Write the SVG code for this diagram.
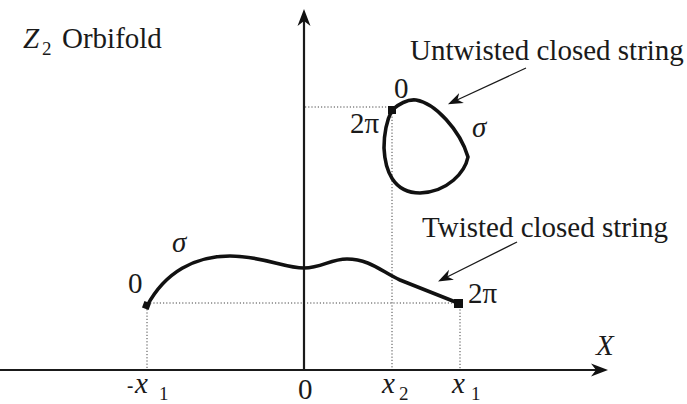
<svg xmlns="http://www.w3.org/2000/svg" width="687" height="404" viewBox="0 0 687 404">
<defs>
<style>
.txt{font-family:"Liberation Serif","Times New Roman",serif;font-size:29px;fill:#1a1a1a}
.it{font-style:italic}
.sub{font-size:19px}
.axis{stroke:#1a1a1a;stroke-width:2.2;fill:none}
.guide{stroke:#444;stroke-width:1;stroke-dasharray:1.2 2;fill:none}
.str{stroke:#111;stroke-width:3.6;fill:none;stroke-linejoin:round;stroke-linecap:round}
.ptr{stroke:#1a1a1a;stroke-width:1.3;fill:none}
.end{fill:#111}
</style>
<marker id="axhead" markerUnits="userSpaceOnUse" markerWidth="20" markerHeight="16" viewBox="0 -8 20 16" refX="6" refY="0" orient="auto">
<path d="M0,-6.5 L17,0 L0,6.5 L5,0 Z" fill="#111"/>
</marker>
<marker id="ptrhead" markerUnits="userSpaceOnUse" markerWidth="18" markerHeight="14" viewBox="0 -7 18 14" refX="5" refY="0" orient="auto">
<path d="M0,-5.5 L15,0 L0,5.5 L4.5,0 Z" fill="#111"/>
</marker>
</defs>
<rect width="687" height="404" fill="#fff"/>

<g id="guides">
<line class="guide" x1="305" y1="107" x2="392" y2="107"/>
<line class="guide" x1="392" y1="107" x2="392" y2="370"/>
<line class="guide" x1="147" y1="303" x2="460" y2="303"/>
<line class="guide" x1="147" y1="306" x2="147" y2="370"/>
<line class="guide" x1="460" y1="303" x2="460" y2="370"/>
</g>

<g id="axes">
<line class="axis" x1="0" y1="370" x2="597" y2="370" marker-end="url(#axhead)"/>
<line class="axis" x1="304" y1="370" x2="304" y2="20" marker-end="url(#axhead)"/>
</g>

<g id="untwisted-string">
<path class="str" d="M392,110 C400,103 407,99 416,100 C435,103 460,130 468,157 C465,172 448,192 420,193 C393,193 385,170 384,148 C384,130 388,118 392,110 Z"/>
<rect class="end" x="388" y="106" width="8" height="8"/>
</g>

<g id="twisted-string">
<path class="str" d="M147,306 C165,272 195,256 230,256 C262,256 285,268 304,268 C322,268 330,259 347,259 C370,259 382,272 400,280 L458,303"/>
<rect class="end" x="143" y="302" width="7" height="7" transform="rotate(20 146.5 305.5)"/>
<rect class="end" x="454" y="299" width="9" height="9"/>
</g>

<g id="connectors">
<line class="ptr" x1="526" y1="68" x2="457" y2="100" marker-end="url(#ptrhead)"/>
<line class="ptr" x1="517" y1="242" x2="447" y2="277" marker-end="url(#ptrhead)"/>
</g>

<g id="labels">
<text class="txt" x="23" y="48"><tspan class="it">Z</tspan><tspan class="sub" x="42" y="55">2</tspan><tspan x="62" y="48">Orbifold</tspan></text>
<text class="txt" x="410" y="60">Untwisted closed string</text>
<text class="txt" x="422" y="237">Twisted closed string</text>
<text class="txt" x="394" y="98">0</text>
<text class="txt" x="350" y="133">2π</text>
<text class="txt it" x="472" y="137">σ</text>
<text class="txt" x="128" y="293">0</text>
<text class="txt it" x="172" y="252">σ</text>
<text class="txt" x="468" y="303">2π</text>
<text class="txt it" x="596" y="355">X</text>
<text class="txt sub" x="127" y="392" font-weight="bold">-</text>
<text class="txt" x="135" y="393"><tspan class="it">x</tspan><tspan class="sub" x="159" y="400">1</tspan></text>
<text class="txt" x="298" y="399">0</text>
<text class="txt" x="382" y="393"><tspan class="it">x</tspan><tspan class="sub" x="399" y="400">2</tspan></text>
<text class="txt" x="452" y="393"><tspan class="it">x</tspan><tspan class="sub" x="471" y="400">1</tspan></text>
</g>
</svg>
